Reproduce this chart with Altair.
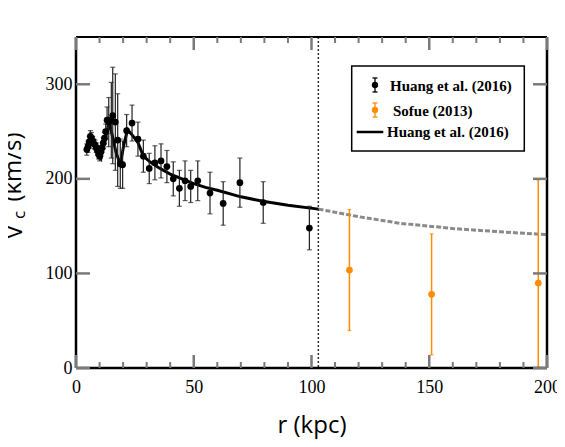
import altair as alt
import pandas as pd

# ---------------- data ----------------
huang_r = [4.6, 5.1, 5.6, 6.1, 6.6, 7.1, 7.6, 8.1, 8.6, 9.1, 9.6, 10.1, 10.6, 11.1, 11.6, 12.1, 12.6,
           13.2, 13.9, 15.0, 15.6, 16.7, 17.7, 18.8, 19.8, 21.5, 23.8, 26.3, 28.6, 31.1, 33.5, 36.1,
           38.6, 41.3, 43.9, 46.3, 48.7, 51.7, 56.9, 62.5, 69.6, 79.5, 99.1]
huang_v = [231, 234, 239, 245, 243, 240, 237, 236, 233, 230, 226, 224, 229, 233, 238, 243, 250,
           262, 260, 262, 267, 260, 241, 216, 215, 251, 259, 242, 224, 211, 217, 219,
           213, 200, 190, 198, 192, 198, 185, 174, 196, 175, 148]
huang_err = [6, 6, 6, 6, 6, 5, 5, 5, 5, 5, 5, 5, 5, 5, 6, 6, 8,
             14, 26, 40, 51, 51, 49, 26, 25, 17, 19, 18, 17, 16, 18, 18,
             17, 18, 19, 21, 17, 21, 22, 23, 26, 22, 23]

sofue_r = [116.1, 151.0, 196.3]
sofue_v = [103.6, 77.9, 89.9]
sofue_err = [64, 64, 109]

fit_r = [4.0, 5.0, 6.4, 7.5, 8.5, 9.5, 10.6, 11.5, 12.5, 14.1, 15.5, 17.0, 18.8, 20.3, 21.9,
         24.0, 26.2, 28.6, 31.4, 35, 40, 45, 50, 55, 60, 70, 80, 90, 103]
fit_v = [231, 238, 246, 241, 234, 227, 222, 232, 243, 259, 245, 228, 215, 236, 252,
         246, 239, 224, 218, 212, 205, 200, 195, 191, 188, 181, 176, 172, 168]

ext_r = [103, 120, 137.6, 160, 180, 200]
ext_v = [168, 160, 153, 147.5, 144, 141]

boundary_r = [102.9]

x_major = [0, 50, 100, 150, 200]
x_minor = [10, 20, 30, 40, 60, 70, 80, 90, 110, 120, 130, 140, 160, 170, 180, 190]
y_major = [0, 100, 200, 300]

legend_labels = ["Huang et al. (2016)", "Sofue (2013)", "Huang et al. (2016)"]

# ---------------- frames ----------------
huang = pd.DataFrame({"r": huang_r, "v": huang_v, "err": huang_err})
huang["lo"] = huang["v"] - huang["err"]
huang["hi"] = huang["v"] + huang["err"]
sofue = pd.DataFrame({"r": sofue_r, "v": sofue_v, "err": sofue_err})
sofue["lo"] = sofue["v"] - sofue["err"]
sofue["hi"] = sofue["v"] + sofue["err"]
fit = pd.DataFrame({"r": fit_r, "v": fit_v})
ext = pd.DataFrame({"r": ext_r, "v": ext_v})
bnd = pd.DataFrame({"r": boundary_r})
xmaj = pd.DataFrame({"r": x_major})
xmin = pd.DataFrame({"r": x_minor})
ymaj = pd.DataFrame({"v": y_major})
one = pd.DataFrame({"a": [0]})

W, H = 471, 331
GRAY = "#7a7a7a"
ORANGE = "#ff8c00"
SERIF = '"Times New Roman", "Liberation Serif", serif'

xs = alt.Scale(domain=[0, 200], nice=False, zero=False)
ys = alt.Scale(domain=[0, 350], nice=False, zero=False)
xaxis = alt.Axis(values=x_major, ticks=False, domain=False, grid=False,
                 labelFont=SERIF, labelFontSize=18, labelColor="black",
                 labelPadding=10, labelFlush=False,
                 title="r (kpc)", titleFont="Open Sans", titleFontSize=24,
                 titleFontWeight="normal", titleColor="black", titlePadding=17)
yaxis = alt.Axis(values=y_major, ticks=False, domain=False, grid=False,
                 labelFont=SERIF, labelFontSize=18, labelColor="black",
                 labelPadding=4, labelFlush=False, title=None)


def X(f):
    return alt.X(f, type="quantitative", scale=xs, axis=xaxis)


def Y(f):
    return alt.Y(f, type="quantitative", scale=ys, axis=yaxis)


layers = []

# extrapolated dashed curve
layers.append(alt.Chart(ext).mark_line(color="#8a8a8a", strokeWidth=3, strokeDash=[5, 2])
              .encode(x=X("r"), y=Y("v")))
# solid fit curve
layers.append(alt.Chart(fit).mark_line(color="black", strokeWidth=3)
              .encode(x=X("r"), y=Y("v")))
# dotted boundary
layers.append(alt.Chart(bnd).mark_rule(color="#333333", strokeWidth=1.5, strokeDash=[2, 2])
              .encode(x=X("r"), y=alt.value(0), y2=alt.value(H)))

# Huang error bars
layers.append(alt.Chart(huang).mark_rule(color="#222222", strokeWidth=1.2)
              .encode(x=X("r"), y=Y("lo"), y2="hi"))
layers.append(alt.Chart(huang).mark_tick(orient="horizontal", size=5, thickness=1.2, color="#222222")
              .encode(x=X("r"), y=Y("lo")))
layers.append(alt.Chart(huang).mark_tick(orient="horizontal", size=5, thickness=1.2, color="#222222")
              .encode(x=X("r"), y=Y("hi")))
layers.append(alt.Chart(huang).mark_circle(size=45, color="black", opacity=1)
              .encode(x=X("r"), y=Y("v")))

# Sofue error bars
layers.append(alt.Chart(sofue).mark_rule(color=ORANGE, strokeWidth=1.5, clip=True)
              .encode(x=X("r"), y=Y("lo"), y2="hi"))
layers.append(alt.Chart(sofue).mark_tick(orient="horizontal", size=4, thickness=1.2, color=ORANGE, clip=True)
              .encode(x=X("r"), y=Y("hi")))
layers.append(alt.Chart(sofue[sofue["lo"] > 0]).mark_tick(orient="horizontal", size=4, thickness=1.2, color=ORANGE)
              .encode(x=X("r"), y=Y("lo")))
layers.append(alt.Chart(sofue).mark_circle(size=45, color=ORANGE, opacity=1)
              .encode(x=X("r"), y=Y("v")))

# frame (drawn as rules so it is solid black)
layers.append(alt.Chart(one).mark_rule(color="black", strokeWidth=2.5)
              .encode(x=alt.value(0), x2=alt.value(W), y=alt.value(H)))
layers.append(alt.Chart(one).mark_rule(color="black", strokeWidth=1.8)
              .encode(x=alt.value(0), x2=alt.value(W), y=alt.value(0)))
layers.append(alt.Chart(one).mark_rule(color="black", strokeWidth=2.5)
              .encode(y=alt.value(0), y2=alt.value(H), x=alt.value(0)))
layers.append(alt.Chart(one).mark_rule(color="black", strokeWidth=2.5)
              .encode(y=alt.value(0), y2=alt.value(H), x=alt.value(W)))

# inward ticks
layers.append(alt.Chart(xmaj).mark_rule(color=GRAY, strokeWidth=2.5)
              .encode(x=X("r"), y=alt.value(H), y2=alt.value(H - 13)))
layers.append(alt.Chart(xmaj).mark_rule(color=GRAY, strokeWidth=2.5)
              .encode(x=X("r"), y=alt.value(0), y2=alt.value(13)))
layers.append(alt.Chart(xmin).mark_rule(color=GRAY, strokeWidth=2)
              .encode(x=X("r"), y=alt.value(H), y2=alt.value(H - 6)))
layers.append(alt.Chart(xmin).mark_rule(color=GRAY, strokeWidth=2)
              .encode(x=X("r"), y=alt.value(0), y2=alt.value(6)))
layers.append(alt.Chart(ymaj).mark_rule(color=GRAY, strokeWidth=2.5)
              .encode(y=Y("v"), x=alt.value(0), x2=alt.value(14)))
layers.append(alt.Chart(ymaj).mark_rule(color=GRAY, strokeWidth=2.5)
              .encode(y=Y("v"), x=alt.value(W), x2=alt.value(W - 14)))

# legend
layers.append(alt.Chart(one).mark_rect(fill="white", stroke="black", strokeWidth=1.5)
              .encode(x=alt.value(275.7), x2=alt.value(448.3), y=alt.value(29), y2=alt.value(114)))
leg_font = dict(font=SERIF, fontSize=15, fontWeight="bold", color="black",
                align="left", baseline="middle")
layers.append(alt.Chart(one).mark_text(**leg_font)
              .encode(x=alt.value(314), y=alt.value(48.5), text=alt.value(legend_labels[0])))
layers.append(alt.Chart(one).mark_text(**leg_font)
              .encode(x=alt.value(317), y=alt.value(73.5), text=alt.value(legend_labels[1])))
layers.append(alt.Chart(one).mark_text(**leg_font)
              .encode(x=alt.value(311), y=alt.value(95), text=alt.value(legend_labels[2])))
for yc, col in [(48, "black"), (73, ORANGE)]:
    layers.append(alt.Chart(one).mark_rule(color=col, strokeWidth=1.3)
                  .encode(x=alt.value(299), y=alt.value(yc - 7), y2=alt.value(yc + 7)))
    layers.append(alt.Chart(one).mark_rule(color=col, strokeWidth=1.3)
                  .encode(x=alt.value(296.5), x2=alt.value(301.5), y=alt.value(yc - 7)))
    layers.append(alt.Chart(one).mark_rule(color=col, strokeWidth=1.3)
                  .encode(x=alt.value(296.5), x2=alt.value(301.5), y=alt.value(yc + 7)))
    layers.append(alt.Chart(one).mark_circle(size=40, color=col, opacity=1)
                  .encode(x=alt.value(299), y=alt.value(yc)))
layers.append(alt.Chart(one).mark_rule(color="black", strokeWidth=2.5)
              .encode(x=alt.value(280.7), x2=alt.value(307.3), y=alt.value(95)))

# y-axis title with subscript
ttl = dict(font="Open Sans", color="black", angle=270, align="center", baseline="middle")
layers.append(alt.Chart(one).mark_text(fontSize=24, **ttl)
              .encode(x=alt.value(-61.5), y=alt.value(195), text=alt.value("V")))
layers.append(alt.Chart(one).mark_text(fontSize=17, **ttl)
              .encode(x=alt.value(-56.5), y=alt.value(178), text=alt.value("c")))
layers.append(alt.Chart(one).mark_text(fontSize=24, **ttl)
              .encode(x=alt.value(-62), y=alt.value(130), text=alt.value("(km/s)")))

chart = alt.layer(*layers).properties(
    width=W, height=H,
    autosize=alt.AutoSizeParams(type="none"),
    padding={"left": 68, "top": 29, "right": 10, "bottom": 71},
    background="white",
).configure_view(stroke=None)

chart.save("out.html", embed_options={"renderer": "svg", "actions": False})
